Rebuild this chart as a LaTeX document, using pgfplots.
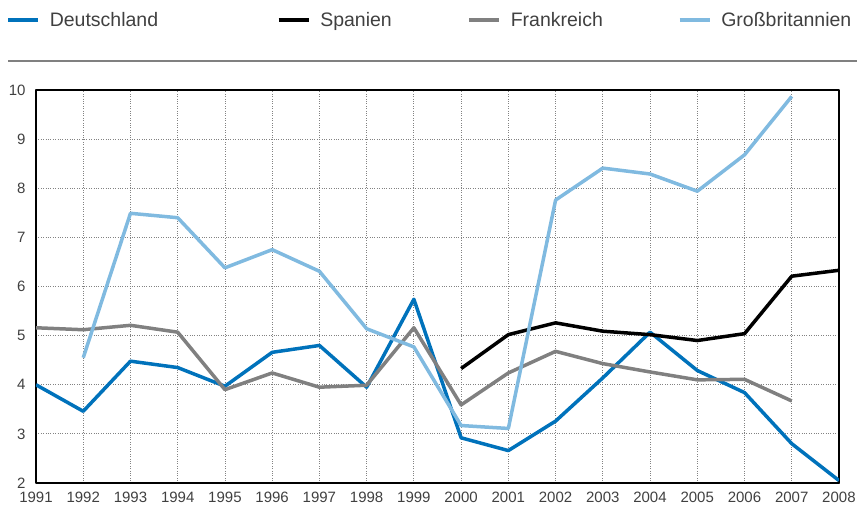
\documentclass[border=0pt]{standalone}
\usepackage{pgfplots}
\pgfplotsset{compat=1.18}
\usepackage{fontspec}
\setmainfont{Liberation Sans}
\definecolor{deblue}{RGB}{0,114,187}
\definecolor{gblue}{RGB}{128,186,224}
\definecolor{frgray}{RGB}{128,128,128}
\definecolor{txtgray}{RGB}{64,64,64}
\definecolor{gridgray}{RGB}{130,130,130}
\begin{document}
\begin{tikzpicture}[x=1pt,y=1pt]
\path[use as bounding box] (0,0) rectangle (857,506);
\draw[frgray, line width=2.2pt] (8,445) -- (857,445);
\begin{axis}[
  at={(36pt,23pt)}, anchor=south west,
  scale only axis, width=803pt, height=393pt,
  xmin=1991, xmax=2008, ymin=2, ymax=10,
  xtick={1991,...,2008}, ytick={2,...,10},
  xticklabel style={/pgf/number format/1000 sep={}},
  /pgf/number format/assume math mode=true,
  major tick length=0pt,
  tick label style={font=\fontsize{15}{16}\selectfont, text=txtgray},
  xticklabel style={yshift=-5pt},
  yticklabel style={xshift=-7pt},
  grid=major,
  major grid style={dotted, gridgray, line width=0.8pt},
  axis line style={black, line width=1.5pt},
  line join=round,
  legend columns=4,
  legend style={at={(-0.037,1.178)}, anchor=west, draw=none, fill=none,
    inner sep=0pt, outer sep=0pt, column sep=0pt,
    nodes={inner sep=0pt, outer sep=0pt, anchor=west},
    font=\fontsize{19.5}{21}\selectfont, text=txtgray},
  legend image code/.code={\draw[#1, line width=3.5pt] (0pt,0pt) -- (30pt,0pt); \path (40pt,0pt);},
]
\addplot[deblue, line width=3.5pt] coordinates {
(1991,4.00) (1992,3.46) (1993,4.48) (1994,4.35) (1995,3.97) (1996,4.66)
(1997,4.80) (1998,3.95) (1999,5.74) (2000,2.92) (2001,2.66) (2002,3.26)
(2003,4.14) (2004,5.07) (2005,4.29) (2006,3.84) (2007,2.80) (2008,2.05)};
\addlegendentry{\makebox[227pt][l]{Deutschland}}
\addplot[black, line width=3.5pt] coordinates {
(2000,4.33) (2001,5.02) (2002,5.26) (2003,5.09) (2004,5.02) (2005,4.90)
(2006,5.04) (2007,6.21) (2008,6.33)};
\addlegendentry{\makebox[147pt][l]{Spanien}}
\addplot[frgray, line width=3.5pt] coordinates {
(1991,5.16) (1992,5.12) (1993,5.21) (1994,5.07) (1995,3.90) (1996,4.24)
(1997,3.95) (1998,3.99) (1999,5.16) (2000,3.59) (2001,4.24) (2002,4.68)
(2003,4.43) (2004,4.26) (2005,4.10) (2006,4.11) (2007,3.67)};
\addlegendentry{\makebox[167pt][l]{Frankreich}}
\addplot[gblue, line width=3.5pt] coordinates {
(1992,4.55) (1993,7.49) (1994,7.40) (1995,6.38) (1996,6.75) (1997,6.31)
(1998,5.14) (1999,4.77) (2000,3.17) (2001,3.11) (2002,7.76) (2003,8.41)
(2004,8.29) (2005,7.94) (2006,8.68) (2007,9.87)};
\addlegendentry{Großbritannien}
\end{axis}
\end{tikzpicture}
\end{document}
